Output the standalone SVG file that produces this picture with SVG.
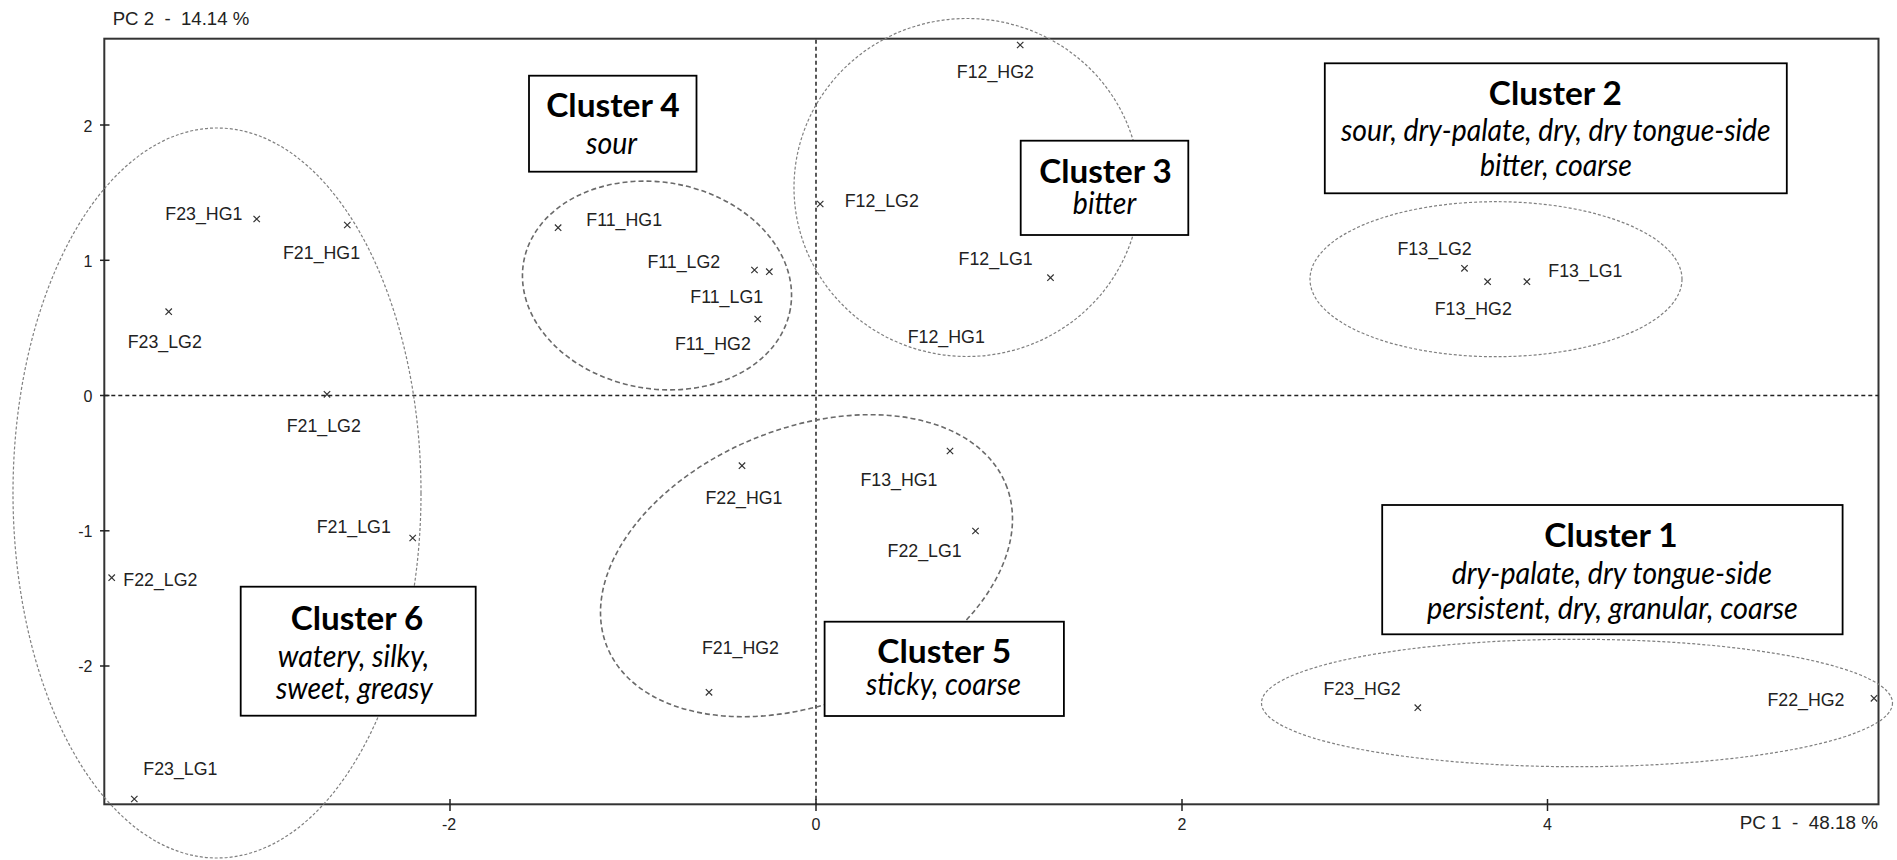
<svg xmlns="http://www.w3.org/2000/svg" width="1897" height="860" viewBox="0 0 1897 860">
<style>
.frame{fill:none;stroke:#333;stroke-width:2}
.axis{fill:none;stroke:#222;stroke-width:1.5;stroke-dasharray:4 3}
.tick{stroke:#222;stroke-width:1.5}
.tl{font-family:"Liberation Sans",Arial,sans-serif;font-size:16px;fill:#222}
.ttl{font-family:"Liberation Sans",Arial,sans-serif;font-size:17.5px;fill:#222}
.ell{fill:none;stroke:#808080;stroke-width:1.2;stroke-dasharray:3 2}
.ell2{fill:none;stroke:#6a6a6a;stroke-width:1.6;stroke-dasharray:5 3}
.mk{stroke:#333;stroke-width:1.2;fill:none}
.lbl{font-family:"Liberation Sans",Arial,sans-serif;font-size:17.8px;fill:#222}
.box{fill:#fff;stroke:#000;stroke-width:1.8}
.ct{font-family:Lato,"Open Sans","Liberation Sans",sans-serif;font-weight:bold;font-size:32px;fill:#000;text-anchor:middle}
.cd{font-family:Lato,"Open Sans","Liberation Sans",sans-serif;font-style:italic;font-size:30px;fill:#000;text-anchor:middle}
</style>
<defs>
<path id="x" d="M-3.2,-3.2L3.2,3.2M-3.2,3.2L3.2,-3.2" class="mk"/>
</defs>
<rect width="1897" height="860" fill="#fff"/>
<g id="axes">
<rect class="frame" x="104.3" y="38.7" width="1774.2" height="765.6"/>
<line class="axis" x1="104.3" y1="395.5" x2="1878.5" y2="395.5"/>
<line class="axis" x1="816" y1="39.7" x2="816" y2="804"/>
<line class="tick" x1="100" y1="125" x2="109.5" y2="125"/>
<line class="tick" x1="100" y1="260.3" x2="109.5" y2="260.3"/>
<line class="tick" x1="100" y1="395.5" x2="109.5" y2="395.5"/>
<line class="tick" x1="100" y1="530.8" x2="109.5" y2="530.8"/>
<line class="tick" x1="100" y1="666" x2="109.5" y2="666"/>
<line class="tick" x1="450" y1="799" x2="450" y2="811"/>
<line class="tick" x1="816" y1="799" x2="816" y2="811"/>
<line class="tick" x1="1182" y1="799" x2="1182" y2="811"/>
<line class="tick" x1="1547.5" y1="799" x2="1547.5" y2="811"/>
<g class="tl" text-anchor="end">
<text x="92.5" y="131.7">2</text>
<text x="92.5" y="266.8">1</text>
<text x="92.5" y="402">0</text>
<text x="92.5" y="537.3">-1</text>
<text x="92.5" y="671.8">-2</text>
</g>
<g class="tl" text-anchor="middle">
<text x="449" y="830">-2</text>
<text x="816" y="830">0</text>
<text x="1182" y="830">2</text>
<text x="1547.5" y="830">4</text>
</g>
<text class="ttl" x="112.7" y="25" textLength="136.6" lengthAdjust="spacingAndGlyphs" xml:space="preserve">PC 2  -  14.14 %</text>
<text class="ttl" x="1739.7" y="829.3" textLength="138.3" lengthAdjust="spacingAndGlyphs" xml:space="preserve">PC 1  -  48.18 %</text>
</g>
<g id="cluster-ellipses">
<ellipse id="ell6" class="ell" cx="217" cy="493" rx="204" ry="365"/>
<ellipse id="ell4" class="ell2" cx="657" cy="285.5" rx="135.4" ry="103.3" transform="rotate(10 657 285.5)"/>
<ellipse id="ell3" class="ell" cx="967" cy="187.5" rx="173" ry="169"/>
<ellipse id="ell5" class="ell2" cx="806.5" cy="565.7" rx="215.3" ry="137.4" transform="rotate(-22.2 806.5 565.7)"/>
<ellipse id="ell2" class="ell" cx="1496" cy="279.2" rx="186" ry="77.5"/>
<ellipse id="ell1" class="ell" cx="1577" cy="703" rx="315.5" ry="63.7"/>
</g>
<g id="points">
<g id="F23_HG1"><use href="#x" x="256.7" y="219"/><text class="lbl" x="165.3" y="220">F23_HG1</text></g>
<g id="F21_HG1"><use href="#x" x="347.3" y="225"/><text class="lbl" x="283" y="259">F21_HG1</text></g>
<g id="F23_LG2"><use href="#x" x="168.7" y="311.7"/><text class="lbl" x="127.7" y="348.3">F23_LG2</text></g>
<g id="F21_LG2"><use href="#x" x="327" y="394.3"/><text class="lbl" x="286.7" y="432.3">F21_LG2</text></g>
<g id="F21_LG1"><use href="#x" x="412.7" y="538"/><text class="lbl" x="316.7" y="532.7">F21_LG1</text></g>
<g id="F22_LG2"><use href="#x" x="111.7" y="577.7"/><text class="lbl" x="123.3" y="585.7">F22_LG2</text></g>
<g id="F23_LG1"><use href="#x" x="134.3" y="799"/><text class="lbl" x="143.3" y="775">F23_LG1</text></g>
<g id="F11_HG1"><use href="#x" x="558.1" y="227.7"/><text class="lbl" x="586.3" y="226">F11_HG1</text></g>
<g id="F11_LG2"><use href="#x" x="754.5" y="270"/><text class="lbl" x="647.4" y="267.7">F11_LG2</text></g>
<g id="F11_LG1"><use href="#x" x="769.3" y="271.7"/><text class="lbl" x="690.3" y="303.3">F11_LG1</text></g>
<g id="F11_HG2"><use href="#x" x="757.7" y="319"/><text class="lbl" x="675" y="350">F11_HG2</text></g>
<g id="F12_HG2"><use href="#x" x="1020.2" y="45"/><text class="lbl" x="956.8" y="78.3">F12_HG2</text></g>
<g id="F12_LG2"><use href="#x" x="820.2" y="204"/><text class="lbl" x="844.7" y="207.3">F12_LG2</text></g>
<g id="F12_LG1"><use href="#x" x="1050.5" y="277.7"/><text class="lbl" x="958.6" y="265">F12_LG1</text></g>
<g id="F12_HG1"><text class="lbl" x="907.7" y="343.3">F12_HG1</text></g>
<g id="F22_HG1"><use href="#x" x="742" y="465.7"/><text class="lbl" x="705.4" y="504.3">F22_HG1</text></g>
<g id="F13_HG1"><use href="#x" x="950" y="451"/><text class="lbl" x="860.4" y="486">F13_HG1</text></g>
<g id="F22_LG1"><use href="#x" x="975.5" y="531"/><text class="lbl" x="887.6" y="556.7">F22_LG1</text></g>
<g id="F21_HG2"><use href="#x" x="709" y="692.3"/><text class="lbl" x="701.9" y="654">F21_HG2</text></g>
<g id="F13_LG2"><use href="#x" x="1464.5" y="268.3"/><text class="lbl" x="1397.5" y="255">F13_LG2</text></g>
<g id="F13_HG2"><use href="#x" x="1487.6" y="281.7"/><text class="lbl" x="1434.7" y="315">F13_HG2</text></g>
<g id="F13_LG1"><use href="#x" x="1526.9" y="281.7"/><text class="lbl" x="1548.3" y="276.7">F13_LG1</text></g>
<g id="F23_HG2"><use href="#x" x="1417.8" y="707.7"/><text class="lbl" x="1323.6" y="695">F23_HG2</text></g>
<g id="F22_HG2"><use href="#x" x="1874" y="698.3"/><text class="lbl" x="1767.4" y="706">F22_HG2</text></g>
</g>
<g id="cluster4">
<rect class="box" x="529" y="75.7" width="167.5" height="96"/>
<text class="ct" x="613" y="117.3" textLength="133.6" lengthAdjust="spacingAndGlyphs">Cluster 4</text>
<text class="cd" x="611.5" y="154" textLength="51" lengthAdjust="spacingAndGlyphs">sour</text>
</g>
<g id="cluster3">
<rect class="box" x="1020.7" y="140.7" width="167.6" height="94.3"/>
<text class="ct" x="1105.5" y="183.3" textLength="132.4" lengthAdjust="spacingAndGlyphs">Cluster 3</text>
<text class="cd" x="1104.5" y="214.3" textLength="63.3" lengthAdjust="spacingAndGlyphs">bitter</text>
</g>
<g id="cluster2">
<rect class="box" x="1324.8" y="63.3" width="462" height="130"/>
<text class="ct" x="1555.4" y="104.5" textLength="133.1" lengthAdjust="spacingAndGlyphs">Cluster 2</text>
<text class="cd" x="1555.8" y="140.5" textLength="429.8" lengthAdjust="spacingAndGlyphs">sour, dry-palate, dry, dry tongue-side</text>
<text class="cd" x="1556" y="175.5" textLength="152" lengthAdjust="spacingAndGlyphs">bitter, coarse</text>
</g>
<g id="cluster1">
<rect class="box" x="1382.2" y="505" width="460.4" height="129.3"/>
<text class="ct" x="1611" y="546.7" textLength="133.5" lengthAdjust="spacingAndGlyphs">Cluster 1</text>
<text class="cd" x="1611.8" y="584" textLength="320.2" lengthAdjust="spacingAndGlyphs">dry-palate, dry tongue-side</text>
<text class="cd" x="1612.4" y="618.5" textLength="371" lengthAdjust="spacingAndGlyphs">persistent, dry, granular, coarse</text>
</g>
<g id="cluster5">
<rect class="box" x="824.6" y="621.7" width="239.3" height="94.3"/>
<text class="ct" x="944.3" y="663.3" textLength="134" lengthAdjust="spacingAndGlyphs">Cluster 5</text>
<text class="cd" x="943.5" y="695" textLength="155" lengthAdjust="spacingAndGlyphs">sticky, coarse</text>
</g>
<g id="cluster6">
<rect class="box" x="240.7" y="586.7" width="235" height="129"/>
<text class="ct" x="357" y="630" textLength="132.6" lengthAdjust="spacingAndGlyphs">Cluster 6</text>
<text class="cd" x="353.5" y="666.5" textLength="151.6" lengthAdjust="spacingAndGlyphs">watery, silky,</text>
<text class="cd" x="354.4" y="699" textLength="156.7" lengthAdjust="spacingAndGlyphs">sweet, greasy</text>
</g>
<g id="connectors"/>
</svg>
